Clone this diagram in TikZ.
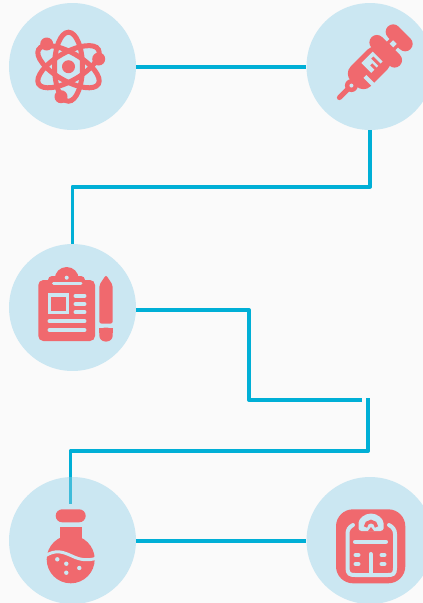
\documentclass[tikz,border=0pt]{standalone}
\usepackage{tikz}
\definecolor{paper}{HTML}{FAFAFA}
\definecolor{disc}{HTML}{CBE7F2}
\definecolor{wire}{HTML}{00AFD6}
\definecolor{softwire}{HTML}{3FBCDA}
\definecolor{ink}{HTML}{F0696E}
\tikzset{
    stop/.style={circle,fill=disc,minimum size=2.54cm,inner sep=0pt},
    link/.style={wire,line width=0.08cm,line join=round},
    cut/.style={disc,line width=0.08cm,line cap=round},
    orbit/.style={ink,line width=0.1cm}
}
\begin{document}
\begin{tikzpicture}[x=0.02cm,y=-0.02cm]
    \useasboundingbox(0,0)rectangle(423,603);
    \clip(0,0)rectangle(423,603);
    \fill[paper](0,0)rectangle(423,603);
    \node[stop](atom)at(72.5,66.5){};
    \node[stop](syringe)at(370,66.5){};
    \node[stop](board)at(72.5,307.5){};
    \node[stop](flask)at(72.5,540.5){};
    \node[stop](scale)at(370,540.5){};
    \coordinate(A1)at(370,186.5);
    \coordinate(A2)at(72.5,186.5);
    \coordinate(B1)at(249,310);
    \coordinate(B2)at(249,400);
    \coordinate(B3)at(362,400);
    \coordinate(C0)at(368,398);
    \coordinate(C1)at(368,451);
    \coordinate(C2)at(70.5,451);
    \coordinate(C3)at(70.5,477);
    \coordinate(C4)at(70.5,503.5);
    \draw[link](atom.east)--(syringe.west);
    \draw[link](syringe.south)--(A1)--(A2)--(board.north);
    \draw[link](board.east|-B1)--(B1)--(B2)--(B3);
    \draw[link](C0)--(C1)--(C2)--(C3);
    \draw[softwire,line width=0.08cm](C3)--(C4);
    \draw[link](flask.east)--(scale.west);
    % atom
    \foreach \a in {90,30,-30}
        \draw[orbit,rotate around={\a:(68.5,66.7)}](68.5,66.7)ellipse(34.5 and 14);
    \fill[ink](68.5,66.7)circle(6.5);
    \fill[ink](46.7,44)circle(6.5);
    \fill[ink](98.7,59)circle(6.5);
    \fill[ink](61,96.7)circle(6.5);
    % syringe
    \begin{scope}[shift={(338,99)},rotate=45]
        \draw[ink,line width=0.1cm,line cap=round](2,0)--(15,0);
        \fill[ink](19,0)circle(6.5);
        \fill[disc](19,0)circle(2);
        \fill[ink,rounded corners=0.2cm](22,-14)rectangle(66,14);
        \fill[ink](60,-6)rectangle(86,6);
        \fill[ink,rounded corners=0.15cm](60,-20)rectangle(75,20);
        \fill[ink,rounded corners=0.15cm](79,-16)rectangle(94,16);
        \fill[disc](75.5,-2.5)rectangle(80.5,2.5);
        \fill[disc](42,-9)rectangle(58,5);
        \fill[ink](46.5,-1)rectangle(49.5,6);
        \fill[ink](52,-5)rectangle(55,6);
        \fill[disc](33,3)rectangle(37,15);
    \end{scope}
    % clipboard
    \fill[ink,rounded corners=0.1cm](38.3,280)rectangle(95,341);
    \fill[ink,rounded corners=0.08cm](48,276)rectangle(85,285);
    \fill[ink](66.7,279)circle(12);
    \fill[disc](66.7,277.7)circle(2);
    \draw[cut,line width=0.06cm](53.5,283)--(81,283);
    \fill[disc](47.7,293.3)rectangle(69,314);
    \fill[ink](51,296.7)rectangle(65.7,310.7);
    \foreach \y in {295.7,304,312.3}
        \draw[cut](75.5,\y)--(84.5,\y);
    \foreach \y in {321.3,330}
        \draw[cut](49.5,\y)--(84.5,\y);
    \fill[ink,rounded corners=0.04cm](99.3,323.5)--(99.3,285)--(106,275)--(112.7,285)--(112.7,323.5)--cycle;
    \fill[ink,rounded corners=0.12cm](99.3,327.5)--(99.3,341.5)--(112.7,341.5)--(112.7,327.5)--cycle;
    \fill[ink](99.3,327.5)rectangle(112.7,333);
    % flask
    \fill[ink,rounded corners=0.13cm](55.7,509.3)rectangle(85.7,522.3);
    \fill[ink](60,527)rectangle(81.7,545);
    \fill[ink](70.7,559.3)circle(24);
    \draw[disc,line width=0.06cm](45,556)..controls(56,549)and(63,552)..(72,556)..controls(80,560)and(88,561)..(97,558);
    \foreach \p in {(57.3,559.3),(66.3,563.7),(79.3,568),(66.3,572.7)}
        \fill[disc]\p circle(2.2);
    % scale
    \fill[ink,rounded corners=0.34cm](336,509.3)rectangle(405.3,583.3);
    \draw[cut](353,525)..controls(349,527)and(347.5,530)..(347.5,534)--(347.5,568)..controls(347.5,574)and(350,575)..(355,575)--(388,575)..controls(393,575)and(395,574)..(395,568)--(395,534)..controls(395,530)and(393,527)..(389,525);
    \fill[disc,rounded corners=0.06cm](358.5,531)--(358.5,526)arc(180:360:12.5)--(383.5,531)--cycle;
    \draw[ink,line width=0.07cm](365.5,527)arc(180:360:5.5);
    \fill[ink](371,527)--(368,531)--(374,531)--cycle;
    \draw[cut](355,541.7)--(386,541.7);
    \draw[cut](370.7,554)--(370.7,575);
    \foreach \x in {355.5,381.5}
        \foreach \y in {555,564}
            \draw[cut](\x,\y)--(\x+3,\y);
\end{tikzpicture}
\end{document}
